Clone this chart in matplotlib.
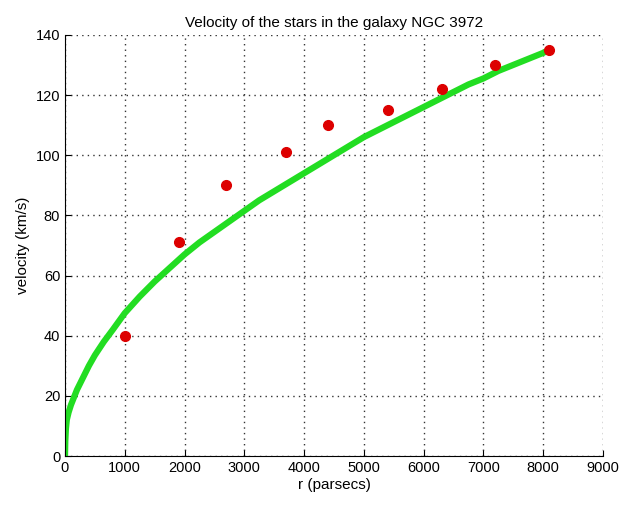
import matplotlib
matplotlib.use("Agg")
import matplotlib.pyplot as plt

plt.rcParams['font.family'] = ['Liberation Sans', 'DejaVu Sans']

# measured stars
r_obs = [1000, 1900, 2700, 3700, 4400, 5400, 6300, 7200, 8100]
v_obs = [40, 71, 90, 101, 110, 115, 122, 130, 135]

# fitted curve
r_fit = [0, 5, 15, 30, 60, 100, 150, 200, 300, 400, 500, 650, 800, 1000, 1250,
         1500, 1750, 2000, 2250, 2500, 2750, 3000, 3250, 3500, 3750, 4000, 4250,
         4500, 4750, 5000, 5250, 5500, 5750, 6000, 6250, 6500, 6750, 7000, 7250,
         7500, 7750, 8000, 8100]
v_fit = [0, 5, 9, 12, 14.5, 17, 19.5, 22, 26, 30, 33.5, 38, 42, 47.5, 53,
         58, 62.5, 67, 71, 74.5, 78, 81.5, 85, 88, 91, 94, 97,
         100, 103, 106, 108.5, 111, 113.5, 116, 118.5, 121, 123.5, 125.5, 128,
         130, 132, 134, 135]

fig = plt.figure(figsize=(6.19, 5.05), dpi=100)
ax = fig.add_axes([0.105, 0.097, 0.869, 0.834])

ax.plot(r_fit, v_fit, color='#22dd22', linewidth=4.5, solid_capstyle='round', zorder=2)
ax.plot(r_obs, v_obs, 'o', color='#dd0000', markersize=7, zorder=3)

ax.set_xlim(0, 9000)
ax.set_ylim(0, 140)
ax.set_xticks(range(0, 9001, 1000))
ax.set_yticks(range(0, 141, 20))
ax.grid(True, linestyle=(0, (1, 3)), color='#333333', linewidth=1)
ax.spines['top'].set_visible(False)
ax.spines['right'].set_visible(False)
ax.tick_params(direction='in', labelsize=10.5, length=4)

ax.set_title('Velocity of the stars in the galaxy NGC 3972', fontsize=11)
ax.set_xlabel('r (parsecs)', fontsize=11, labelpad=2)
ax.set_ylabel('velocity (km/s)', fontsize=11)

fig.savefig('out.png', dpi=100)
